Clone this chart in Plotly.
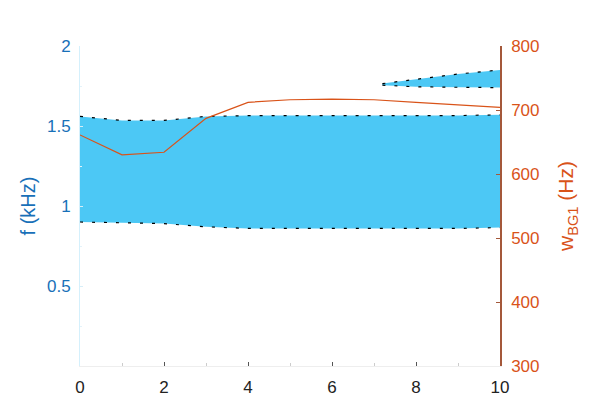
import plotly.graph_objects as go

# band of f (kHz) vs x
x_band = [0, 1, 2, 3, 4, 5, 6, 7, 8, 9, 10]
band_upper = [1.56, 1.535, 1.535, 1.56, 1.565, 1.565, 1.565, 1.565, 1.565, 1.565, 1.57]
band_lower = [0.90, 0.895, 0.89, 0.87, 0.86, 0.86, 0.86, 0.86, 0.86, 0.86, 0.865]

# small upper wedge
x_wedge = [7.2, 8, 9, 10]
wedge_upper = [1.765, 1.79, 1.825, 1.85]
wedge_lower = [1.755, 1.745, 1.742, 1.74]

# w_BG1 (Hz), right axis
w_bg1 = [661, 630, 634, 687, 712, 716, 717, 716, 712, 708, 704]

BAND = "#4CC8F5"
BLUE = "#1870B8"
ORANGE = "#D95319"
FONT = "Liberation Sans, Arial, sans-serif"

fig = go.Figure()


def add_band(xs, lo, hi):
    fig.add_trace(go.Scatter(x=xs, y=lo, mode="lines",
                             line=dict(color="black", width=1.2, dash="3px,9px"),
                             showlegend=False, hoverinfo="skip"))
    fig.add_trace(go.Scatter(x=xs, y=hi, mode="lines", fill="tonexty",
                             fillcolor=BAND,
                             line=dict(color="black", width=1.2, dash="3px,9px"),
                             showlegend=False, hoverinfo="skip"))


add_band(x_band, band_lower, band_upper)
add_band(x_wedge, wedge_lower, wedge_upper)

fig.add_trace(go.Scatter(x=x_band, y=w_bg1, mode="lines", yaxis="y2",
                         line=dict(color=ORANGE, width=1.2),
                         showlegend=False))

fig.update_layout(
    width=598, height=407,
    margin=dict(l=72, r=106, t=38, b=49),
    paper_bgcolor="white", plot_bgcolor="white",
    font=dict(family=FONT, size=17),
    xaxis=dict(range=[0, 10], tickvals=[0, 2, 4, 6, 8, 10],
               ticks="inside", ticklen=4, tickcolor="#555",
               minor=dict(dtick=1, ticks="inside", ticklen=3, tickcolor="#ccc"),
               showline=True, linecolor="#eeeeee", linewidth=1,
               showgrid=False, zeroline=False, automargin=False,
               ticklabelstandoff=6,
               tickfont=dict(color="#222", size=17)),
    yaxis=dict(range=[0, 2], tickvals=[0.5, 1, 1.5, 2],
               ticktext=["0.5", "1", "1.5", "2"],
               ticks="inside", ticklen=3, tickcolor="#d6eef8",
               minor=dict(dtick=0.25, ticks="inside", ticklen=2, tickcolor="#e3f3fa"),
               showline=True, linecolor="#d4f0fc", linewidth=1,
               showgrid=False, zeroline=False, ticklabelstandoff=5,
               automargin=False,
               tickfont=dict(color=BLUE, size=17),
               title=dict(text="f (kHz)", font=dict(color=BLUE, size=20), standoff=5)),
    yaxis2=dict(range=[300, 800], tickvals=[300, 400, 500, 600, 700, 800],
                overlaying="y", side="right", anchor="x",
                ticks="inside", ticklen=4, tickcolor="#A4583A",
                showline=True, linecolor="#A4583A", linewidth=1.5,
                showgrid=False, zeroline=False, ticklabelstandoff=6,
                automargin=False,
                tickfont=dict(color=ORANGE, size=17),
                title=dict(text="w<sub>BG1</sub> (Hz)",
                           font=dict(color=ORANGE, size=21), standoff=20)),
)

fig.write_html("out.html")
